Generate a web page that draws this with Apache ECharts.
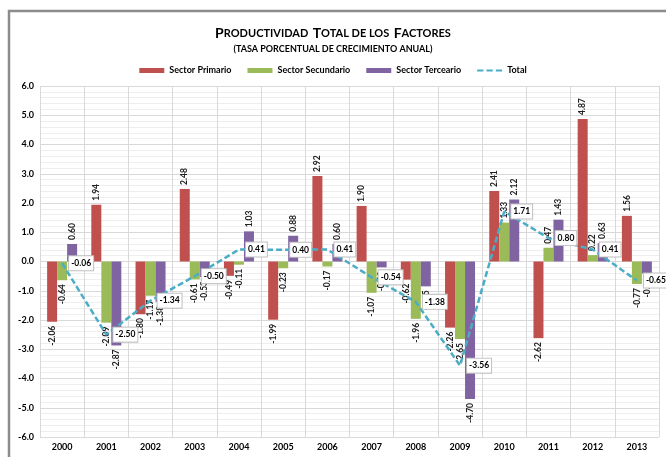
<!DOCTYPE html>
<html>
<head>
<meta charset="utf-8">
<script src="https://cdn.jsdelivr.net/npm/echarts@6/dist/echarts.min.js"></script>
<style>html,body{margin:0;padding:0;background:#fff}#c{width:666px;height:457px}</style>
</head>
<body>
<div id="c"></div>
<script>
const years = ['2000','2001','2002','2003','2004','2005','2006','2007','2008','2009','2010','2011','2012','2013'];
const primario = [-2.06, 1.94, -1.80, 2.48, -0.49, -1.99, 2.92, 1.90, -0.62, -2.26, 2.41, -2.62, 4.87, 1.56];
const secundario = [-0.64, -2.09, -1.17, -0.61, -0.11, -0.23, -0.17, -1.07, -1.96, -2.65, 1.33, 0.47, 0.22, -0.77];
const terceario = [0.60, -2.87, -1.38, -0.53, 1.03, 0.88, 0.60, -0.20, -0.85, -4.70, 2.12, 1.43, 0.63, -0.41];
const total = [-0.06, -2.50, -1.34, -0.50, 0.41, 0.40, 0.41, -0.54, -1.38, -3.56, 1.71, 0.80, 0.41, -0.65];
const seriesNames = ['Sector Primario', 'Sector Secundario', 'Sector Terceario', 'Total'];
const colors = ['#c0504d', '#9bbb59', '#8064a2', '#4bacc6'];

const FONT = 'Lato';
function barData(arr) {
  return arr.map(v => ({
    value: v,
    label: { align: v >= 0 ? 'left' : 'right' }
  }));
}
function barSeries(name, arr, color) {
  return {
    name: name, type: 'bar', data: barData(arr),
    barWidth: 10, barGap: '0%', itemStyle: { color: color },
    label: {
      show: true, position: 'outside', rotate: 90, distance: 4,
      verticalAlign: 'middle', fontFamily: FONT, fontSize: 8.5, fontWeight: 'bold', color: '#222',
      formatter: p => p.value.toFixed(2)
    },
    z: 2
  };
}
const chart = echarts.init(document.getElementById('c'), null, { renderer: 'canvas' });
chart.setOption({
  animation: false,
  backgroundColor: '#fff',
  textStyle: { fontFamily: FONT },
  graphic: [{
    type: 'polyline', silent: true,
    shape: { points: [[9, 460], [9, 11], [670, 11]] },
    style: { stroke: '#8c8c8c', lineWidth: 2.5, fill: null }
  }],
  title: [{
    text: '{b|P}{s|RODUCTIVIDAD} {b|T}{s|OTAL DE LOS} {b|F}{s|ACTORES}',
    left: 'center', top: 19,
    textStyle: {
      rich: {
        b: { fontFamily: FONT, fontSize: 14, fontWeight: 'bold', color: '#000' },
        s: { fontFamily: FONT, fontSize: 11, fontWeight: 'bold', color: '#000' }
      }
    }
  }, {
    text: '(TASA PORCENTUAL DE CRECIMIENTO ANUAL)',
    left: 'center', top: 40,
    textStyle: { fontFamily: FONT, fontSize: 9, fontWeight: 'bold', color: '#000' }
  }],
  legend: {
    top: 61, left: 'center',
    itemWidth: 25, itemHeight: 5, itemGap: 16,
    textStyle: { fontFamily: FONT, fontSize: 9, fontWeight: 'bold', color: '#000' },
    data: [
      { name: seriesNames[0], icon: 'rect' },
      { name: seriesNames[1], icon: 'rect' },
      { name: seriesNames[2], icon: 'rect' },
      { name: seriesNames[3], icon: 'path://M0,0 L6,0 L6,2 L0,2 Z M9,0 L15,0 L15,2 L9,2 Z M18,0 L24,0 L24,2 L18,2 Z' }
    ]
  },
  grid: { left: 40, right: 7, top: 86, bottom: 20 },
  xAxis: {
    type: 'category', data: years,
    axisLine: { show: false }, axisTick: { show: false },
    splitLine: { show: true, lineStyle: { color: '#d9d9d9', width: 1 } },
    axisLabel: { fontFamily: FONT, fontSize: 9, fontWeight: 'bold', color: '#000', margin: 6 }
  },
  yAxis: {
    type: 'value', min: -6, max: 6, interval: 1,
    axisLine: { show: false }, axisTick: { show: false },
    splitLine: { show: true, lineStyle: { color: '#d9d9d9', width: 1 } },
    minorTick: { show: false, splitNumber: 5 },
    minorSplitLine: { show: true, lineStyle: { color: '#eeeeee', width: 1 } },
    axisLabel: { fontFamily: FONT, fontSize: 9, fontWeight: 'bold', color: '#000', margin: 6, formatter: v => v.toFixed(1) }
  },
  series: [
    barSeries(seriesNames[0], primario, colors[0]),
    barSeries(seriesNames[1], secundario, colors[1]),
    barSeries(seriesNames[2], terceario, colors[2]),
    {
      name: seriesNames[3], type: 'line', data: total,
      showSymbol: true, symbol: 'circle', symbolSize: 0.1,
      lineStyle: { color: colors[3], width: 2.5, type: [6, 3] },
      itemStyle: { color: colors[3] },
      label: {
        show: true, position: 'right', distance: 7,
        fontFamily: FONT, fontSize: 8.5, fontWeight: 'bold', color: '#000',
        backgroundColor: '#fff', borderColor: '#bfbfbf', borderWidth: 1, padding: [3, 2, 2, 2],
        formatter: p => p.value.toFixed(2)
      },
      z: 5
    }
  ]
});
</script>
</body>
</html>
